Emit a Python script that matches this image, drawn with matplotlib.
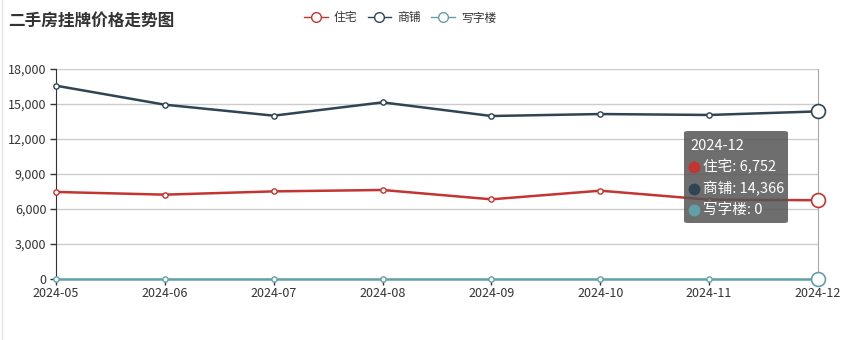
import numpy as np
import matplotlib.pyplot as plt
from matplotlib.lines import Line2D
from matplotlib.patches import FancyBboxPatch
from matplotlib.ticker import FuncFormatter

plt.rcParams['font.family'] = ['Noto Sans CJK SC', 'DejaVu Sans']

# data
months = ['2024-05', '2024-06', '2024-07', '2024-08', '2024-09', '2024-10', '2024-11', '2024-12']
residential = [7460, 7230, 7510, 7630, 6830, 7570, 6800, 6752]
shop = [16570, 14940, 14000, 15140, 13970, 14140, 14060, 14366]
office = [0, 0, 0, 0, 0, 0, 0, 0]
names = ['住宅', '商铺', '写字楼']
colors = ['#c23531', '#2f4554', '#61a0a8']

W, H = 856, 340
fig = plt.figure(figsize=(W / 100, H / 100), dpi=100)
ax = fig.add_axes([56 / W, 1 - 279 / H, (818 - 56) / W, (279 - 69) / H])

x = np.arange(len(months))
for vals, c in zip([residential, shop, office], colors):
    ax.plot(x, vals, color=c, lw=1.8, marker='o', ms=3.8, mfc='white', mec=c, mew=1, zorder=3, clip_on=False)
    # emphasized last point
    ax.plot(x[-1], vals[-1], marker='o', ms=10, mfc='white', mec=c, mew=1.2, zorder=4, clip_on=False)

ax.set_xlim(0, len(months) - 1)
ax.set_ylim(0, 18000)
ax.set_yticks(np.arange(0, 18001, 3000))
ax.yaxis.set_major_formatter(FuncFormatter(lambda v, p: f'{int(v):,}'))
ax.set_xticks(x)
ax.set_xticklabels(months)
ax.grid(axis='y', color='#cccccc', lw=1)
ax.set_axisbelow(True)
for s in ['top', 'bottom']:
    ax.spines[s].set_visible(False)
ax.spines['left'].set_color('#333333')
ax.spines['right'].set_color('#aaaaaa')
ax.tick_params(axis='both', colors='#333333', labelsize=9, length=4, width=1, pad=2)
ax.tick_params(axis='y', pad=3)

# faint page border on the left
fig.add_artist(Line2D([2 / W, 2 / W], [0, 1], transform=fig.transFigure, color='#e6e6e6', lw=1))

fig.text(8 / W, 1 - 21 / H, '二手房挂牌价格走势图', fontsize=12, fontweight='bold', color='#333333', va='center')

handles = [Line2D([0], [0], color=c, lw=1, marker='o', ms=7, mfc='white', mec=c) for c in colors]
fig.legend(handles, names, loc='center', bbox_to_anchor=(400 / W, 1 - 18 / H), ncol=3, frameon=False,
           fontsize=8.5, handlelength=2.0, handletextpad=0.5, columnspacing=0.9, labelcolor='#333333')

# tooltip
box = FancyBboxPatch((684 / W, 1 - 223 / H), 104 / W, 92 / H, boxstyle='round,pad=0,rounding_size=0.005',
                     transform=fig.transFigure, fc='#555555', ec='none', alpha=0.85, zorder=10)
fig.patches.append(box)
fig.text(690 / W, 1 - 146 / H, months[-1], color='white', fontsize=10.5, va='center', zorder=11)
for i, (n, vals, c) in enumerate(zip(names, [residential, shop, office], colors)):
    yy = 1 - (167 + i * 21.5) / H
    fig.add_artist(Line2D([694 / W], [yy], transform=fig.transFigure, marker='o', ms=7.5,
                          mfc=c, mec=c, ls='none', zorder=11))
    fig.text(703 / W, yy, f'{n}: {vals[-1]:,}', color='white', fontsize=10.5, va='center', zorder=11)

fig.savefig('out.png', dpi=100)
